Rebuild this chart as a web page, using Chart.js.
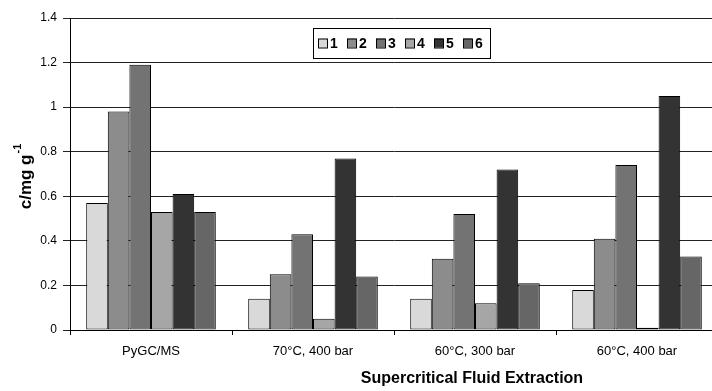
<!DOCTYPE html>
<html>
<head>
<meta charset="utf-8">
<script src="https://cdn.jsdelivr.net/npm/chart.js@4.4.1/dist/chart.umd.min.js"></script>
<style>
    html, body { margin: 0; padding: 0; background: #fff; overflow: hidden; }
    #wrap { width: 720px; height: 391px; }
</style>
</head>
<body>
<div id="wrap"><canvas id="sfeChart"></canvas></div>
<script>
const categories = ['PyGC/MS', '70°C, 400 bar', '60°C, 300 bar', '60°C, 400 bar'];
const seriesNames = ['1', '2', '3', '4', '5', '6'];
const s1 = [0.57, 0.14, 0.14, 0.18];
const s2 = [0.98, 0.25, 0.32, 0.41];
const s3 = [1.19, 0.43, 0.52, 0.74];
const s4 = [0.53, 0.05, 0.12, 0.01];
const s5 = [0.61, 0.77, 0.72, 1.05];
const s6 = [0.53, 0.24, 0.21, 0.33];
const seriesColors = ['#d9d9d9', '#8c8c8c', '#737373', '#a6a6a6', '#333333', '#666666'];
const yTitle = 'c/mg g';
const yTitleSup = '-1';
const xTitle = 'Supercritical Fluid Extraction';

const allSeries = [s1, s2, s3, s4, s5, s6];

// legend box inside the plot, y-axis title with superscript, x title
const extras = {
    id: 'extras',
    afterDraw(chart) {
        const ctx = chart.ctx;
        ctx.save();

        // legend
        const bx = 313, by = 28, bw = 177, bh = 30;
        ctx.fillStyle = '#fff';
        ctx.fillRect(bx, by, bw, bh);
        ctx.strokeStyle = '#000';
        ctx.lineWidth = 1;
        ctx.strokeRect(bx + 0.5, by + 0.5, bw, bh);
        ctx.font = 'bold 14px "Liberation Sans", Arial, sans-serif';
        ctx.textBaseline = 'middle';
        chart.data.datasets.forEach((ds, i) => {
            const x = bx + 5 + i * 29;
            const y = by + bh / 2;
            ctx.fillStyle = ds.backgroundColor;
            ctx.fillRect(x, y - 4.5, 9, 9);
            ctx.strokeStyle = '#000';
            ctx.strokeRect(x + 0.5, y - 4.5 + 0.5, 9, 9);
            ctx.fillStyle = '#000';
            ctx.textAlign = 'left';
            ctx.fillText(ds.label, x + 12, y + 1);
        });

        // y title
        ctx.translate(26, 177);
        ctx.rotate(-Math.PI / 2);
        ctx.font = 'bold 17px "Liberation Sans", Arial, sans-serif';
        const w1 = ctx.measureText(yTitle).width;
        ctx.font = 'bold 11px "Liberation Sans", Arial, sans-serif';
        const w2 = ctx.measureText(yTitleSup).width;
        const start = -(w1 + w2) / 2;
        ctx.font = 'bold 17px "Liberation Sans", Arial, sans-serif';
        ctx.textAlign = 'left';
        ctx.textBaseline = 'middle';
        ctx.fillText(yTitle, start, 0);
        ctx.font = 'bold 11px "Liberation Sans", Arial, sans-serif';
        ctx.fillText(yTitleSup, start + w1 + 1, -8);
        ctx.setTransform(1, 0, 0, 1, 0, 0);

        // x title
        ctx.font = 'bold 16px "Liberation Sans Narrow", "Liberation Sans", Arial, sans-serif';
        ctx.textAlign = 'center';
        ctx.textBaseline = 'middle';
        ctx.fillText(xTitle, 472, 379);
        ctx.restore();
    }
};

const ctx = document.getElementById('sfeChart').getContext('2d');

new Chart(ctx, {
    type: 'bar',
    data: {
        labels: categories,
        datasets: allSeries.map((vals, i) => ({
            label: seriesNames[i],
            data: vals,
            backgroundColor: seriesColors[i],
            borderColor: '#000',
            borderWidth: 1,
            borderSkipped: false,
            barPercentage: 1.0,
            categoryPercentage: 0.8
        }))
    },
    options: {
        responsive: true,
        maintainAspectRatio: false,
        animation: false,
        layout: { padding: { left: 0, right: 2, top: 18, bottom: 0 } },
        plugins: {
            legend: { display: false },
            tooltip: { enabled: false }
        },
        scales: {
            x: {
                grid: {
                    offset: true,
                    drawOnChartArea: false,
                    drawTicks: true,
                    tickLength: 5,
                    color: '#000'
                },
                border: { color: '#000', width: 1 },
                ticks: {
                    color: '#000',
                    padding: 9,
                    maxRotation: 0,
                    font: { family: '"Liberation Sans", Arial, sans-serif', size: 13 }
                },
                afterFit: scale => { scale.height = 61; }
            },
            y: {
                min: 0,
                max: 1.4,
                ticks: {
                    stepSize: 0.2,
                    color: '#000',
                    padding: 6,
                    font: { family: '"Liberation Sans", Arial, sans-serif', size: 12 },
                    callback: v => Math.round(v * 10) / 10
                },
                grid: {
                    color: '#222',
                    tickLength: 7,
                    lineWidth: 1
                },
                border: { color: '#000', width: 1 },
                afterFit: scale => { scale.width = 70; }
            }
        }
    },
    plugins: [extras]
});
</script>
</body>
</html>
